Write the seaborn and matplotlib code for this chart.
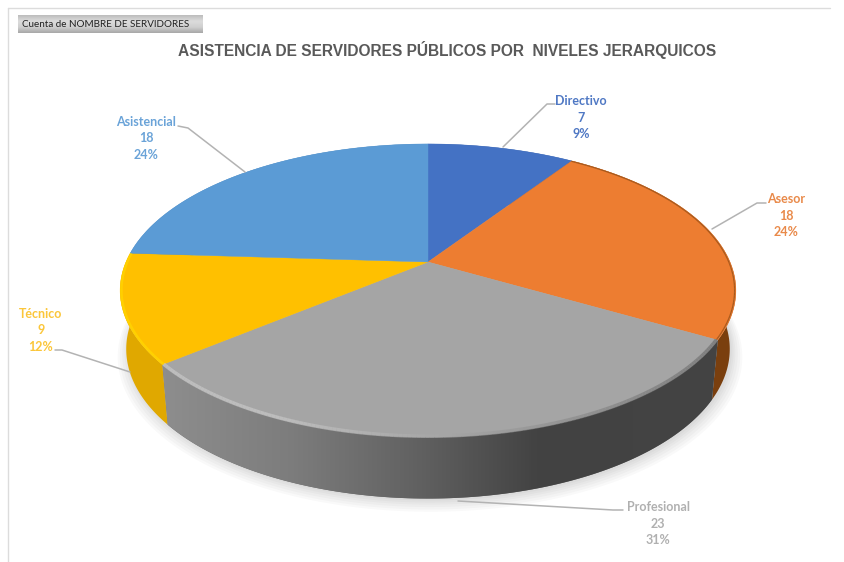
import numpy as np
import seaborn as sns
import matplotlib
matplotlib.use('Agg')
import matplotlib.pyplot as plt
from matplotlib.patches import Polygon
from matplotlib.collections import LineCollection
from matplotlib.colors import LinearSegmentedColormap

categories = ['Directivo', 'Asesor', 'Profesional', 'Técnico', 'Asistencial']
values = [7, 18, 23, 9, 18]
percents = ['9%', '24%', '31%', '12%', '24%']

top_colors = ['#4472c4', '#ed7d31', '#a5a5a5', '#ffc000', '#5b9bd5']
text_colors = ['#4f78c4', '#e98a4a', '#b0b0b0', '#fbc63a', '#6aa3d8']
side_colors = ['#2f5597', '#7a3f0e', '#666666', '#e0a800', '#3f77aa']

sns.set_style('white')
plt.rcParams['font.family'] = ['Lato', 'DejaVu Sans']

fig = plt.figure(figsize=(8.44, 5.62), dpi=100)
ax = fig.add_axes([0, 0, 1, 1])

# pie gives the angles, they get projected to the tilted disc below
wedges, _ = ax.pie(values, startangle=90, counterclock=False, colors=top_colors)


def project(theta, r=1.0, lower=False, grow=1.0):
    t = np.radians(theta)
    u = r * np.cos(t)
    v = r * np.sin(t)
    w = 1 + 0.1945 * v
    if lower:
        return 428 + 296 * grow * u / w, 320 - 141 * 1.02 * grow * (v / w)
    return 428 + 302 * u / w, 262 - 141 * v / w


# soft shadow under the pie
full = np.linspace(0, 360, 240)
for g, off in [(1.035, 7), (1.028, 6), (1.02, 5), (1.012, 4), (1.006, 3), (1.0, 2)]:
    sx, sy = project(full, lower=True, grow=g)
    ax.add_patch(Polygon(np.c_[sx + 2, sy + off], color='#000000', alpha=0.022, lw=0, zorder=1))

gray_cmap = LinearSegmentedColormap.from_list(
    'side', [(0, '#8f8f8f'), (0.25, '#7c7c7c'), (0.48, '#5f5f5f'), (0.68, '#424242'), (1, '#444444')])
gray_grad = np.linspace(0, 1, 400).reshape(1, -1)

for w, col, name in zip(wedges, side_colors, categories):
    w.set_visible(False)
    a = np.linspace(w.theta1, w.theta2, 120)
    x1, y1 = project(a)
    x2, y2 = project(a, lower=True)
    pts = np.r_[np.c_[x1, y1], np.c_[x2, y2][::-1]]
    side = Polygon(pts, facecolor=col, edgecolor='none', zorder=2)
    ax.add_patch(side)
    if name == 'Profesional':
        im = ax.imshow(gray_grad, extent=[150, 725, 510, 330], aspect='auto', cmap=gray_cmap, zorder=2.1)
        im.set_clip_path(side)

for w, col in zip(wedges, top_colors):
    a = np.linspace(w.theta1, w.theta2, 120)
    x1, y1 = project(a)
    cx, cy = project(0.0, r=0.0)
    ax.add_patch(Polygon(np.r_[[[cx, cy]], np.c_[x1, y1]], facecolor=col, edgecolor=col, lw=0.3, zorder=3))

# lit rim on the front edge, a wide faint pass and a thin one
rims = [('Asesor', '#8a4a14', '#8a4a14', 0.9), ('Profesional', '#c8c8c8', '#6e6e6e', 2.6), ('Técnico', '#ffdc00', '#ffdc00', 1.8)]
for name, c0, c1, lw in rims:
    w = wedges[categories.index(name)]
    a = np.linspace(w.theta1, w.theta2, 160)
    x1, y1 = project(a, r=0.996)
    segs = np.stack([np.c_[x1[:-1], y1[:-1]], np.c_[x1[1:], y1[1:]]], axis=1)
    cmap = LinearSegmentedColormap.from_list('rim', [c1, c0])
    f = (x1[:-1] - x1.min()) / (x1.max() - x1.min())
    if name == 'Profesional':
        f = np.clip(1.25 - f * 1.25, 0, 1)
    ax.add_collection(LineCollection(segs, colors=cmap(f), linewidths=lw, zorder=4, alpha=0.7))

# leader lines
leaders = [
    [(503, 147), (547, 104), (555, 104)],
    [(712, 229), (757, 203), (766, 203)],
    [(458, 501), (613, 510), (623, 510)],
    [(130, 372), (62, 350), (55, 350)],
    [(245, 172), (188, 128), (178, 126)],
]
for pts in leaders:
    xs, ys = zip(*pts)
    ax.plot(xs, ys, color='#b3b3b3', lw=1.1, zorder=5)

label_pos = [(581, 101), (786, 199), (658, 507), (41, 314), (146, 122)]
for (lx, ly), name, val, pct, col in zip(label_pos, categories, values, percents, text_colors):
    for i, s in enumerate([name, str(val), pct]):
        ax.text(lx, ly + i * 16.5, s, color=col, fontsize=9, fontweight='bold',
                ha='center', va='center', zorder=6)

# title, field button, sheet border
ax.text(447, 50, 'ASISTENCIA DE SERVIDORES PÚBLICOS POR  NIVELES JERARQUICOS',
        family='Liberation Sans', fontweight='bold', fontsize=11.2, color='#595959',
        ha='center', va='center')

btn_cmap = LinearSegmentedColormap.from_list('btn', ['#bdbdbd', '#dcdcdc', '#d0d0d0', '#a8a8a8'])
ax.imshow(np.linspace(0, 1, 50).reshape(-1, 1), extent=[18, 203, 33, 15], aspect='auto', cmap=btn_cmap, zorder=1)
ax.text(22, 24.5, 'Cuenta de NOMBRE DE SERVIDORES', fontsize=7.1, color='#222222', ha='left', va='center', zorder=2)

ax.plot([8, 830], [8, 8], color='#dcdcdc', lw=1)
ax.plot([8, 8], [8, 562], color='#dcdcdc', lw=1)

ax.set_aspect('auto')
ax.set_xlim(0, 844)
ax.set_ylim(562, 0)
ax.axis('off')

fig.savefig('out.png', dpi=100)
